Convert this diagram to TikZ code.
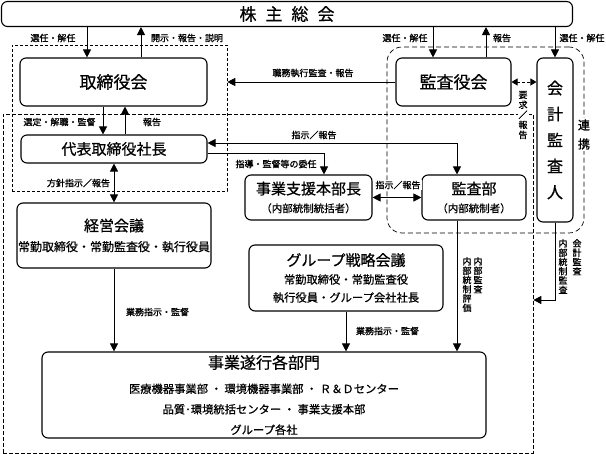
\documentclass[tikz,border=0pt]{standalone}
\usepackage{fontspec}
\setmainfont{Noto Sans CJK JP}
\newfontfamily\lblfont[FakeBold=1.2]{Noto Sans CJK JP}
\newfontfamily\ttlfont[FakeBold=0.6]{Noto Sans CJK JP}
\usetikzlibrary{arrows.meta}

\begin{document}
\begin{tikzpicture}[x=1pt, y=-1pt,
        box/.style={draw, line width=1.1pt, rounded corners=6pt, fill=white, align=center, inner sep=0pt},
        lbl/.style={font=\lblfont\fontsize{9}{9}\selectfont, inner sep=1pt, fill=white},
        vlbl/.style={font=\lblfont\fontsize{9}{9.3}\selectfont, align=center, inner sep=1pt, fill=white},
        arr/.style={line width=0.8pt, -{Triangle[length=8pt,width=8pt]}},
        darr/.style={line width=0.8pt, {Triangle[length=8pt,width=8pt]}-{Triangle[length=8pt,width=8pt]}},
        dsharr/.style={line width=0.8pt, dash pattern=on 3pt off 2pt, {Triangle[length=6pt,width=7pt]}-{Triangle[length=6pt,width=7pt]}},
        mgmtbox/.style={draw, line width=0.7pt, dash pattern=on 4pt off 2pt},
        auditbox/.style={draw, line width=0.7pt, dash pattern=on 5pt off 3pt, rounded corners=15pt},
        bdbox/.style={draw, line width=0.6pt, dash pattern=on 3pt off 2pt}
    ]
        \useasboundingbox (0,0) rectangle (606,454);

        % 破線の枠
        \node[mgmtbox, minimum width=530, minimum height=339] (mgmt) at (268,283.5) {};
        \node[auditbox, minimum width=197, minimum height=186] (audit) at (485.5,140) {};
        \node[bdbox, minimum width=215, minimum height=146] (bdgroup) at (119.5,118) {};

        % 各機関
        \node[box, minimum width=571, minimum height=25, font=\ttlfont\fontsize{17}{17}\selectfont] (soukai) at (287,14) {株\hspace{9pt}主\hspace{9pt}総\hspace{9pt}会};
        \node[box, minimum width=187, minimum height=48, font=\ttlfont\fontsize{17}{17}\selectfont] (torishimari) at (113.5,82) {取締役会};
        \node[box, minimum width=115, minimum height=48, font=\ttlfont\fontsize{17}{17}\selectfont] (kansayaku) at (453.5,82) {監査役会};
        \node[box, minimum width=36, minimum height=164, font=\ttlfont\fontsize{16}{26}\selectfont] (kaikei) at (555,140) {会\\計\\監\\査\\人};
        \node[box, minimum width=186, minimum height=28, font=\ttlfont\fontsize{15}{15}\selectfont] (shacho) at (114,149) {代表取締役社長};
        \node[box, minimum width=194, minimum height=65, font=\ttlfont\fontsize{12}{20}\selectfont] (keiei) at (114,235.5)
            {{\fontsize{15}{20}\selectfont 経営会議}\\常勤取締役・常勤監査役・執行役員};
        \node[box, minimum width=127, minimum height=45, font=\ttlfont\fontsize{10.5}{18}\selectfont] (shien) at (308.5,197.5)
            {{\fontsize{15}{18}\selectfont 事業支援本部長}\\（内部統制統括者）};
        \node[box, minimum width=104, minimum height=45, font=\ttlfont\fontsize{10.5}{18}\selectfont] (kansabu) at (474,197.5)
            {{\fontsize{15}{18}\selectfont 監査部}\\（内部統制者）};
        \node[box, minimum width=194, minimum height=66, font=\ttlfont\fontsize{11.3}{18}\selectfont] (senryaku) at (346,278)
            {{\fontsize{15}{18}\selectfont グループ戦略会議}\\常勤取締役・常勤監査役\\執行役員・グループ会社社長};
        \node[box, minimum width=444, minimum height=86, font=\ttlfont\fontsize{11.3}{20.5}\selectfont] (jigyo) at (264,395)
            {{\fontsize{16}{20.5}\selectfont 事業遂行各部門}\\[4pt]医療機器事業部\ ・\ 環境機器事業部\ ・\ Ｒ＆Ｄセンター\\品質･環境統括センター\ ・\ 事業支援本部\\グループ各社};

        % 矢印
        \draw[arr] (87,0 |- soukai.south) -- (87,0 |- torishimari.north);
        \draw[arr] (141,0 |- torishimari.north) -- (141,0 |- soukai.south);
        \draw[arr] (433,0 |- soukai.south) -- (433,0 |- kansayaku.north);
        \draw[arr] (486,0 |- kansayaku.north) -- (486,0 |- soukai.south);
        \draw[arr] (soukai.south -| kaikei.north) -- (kaikei.north);
        \draw[arr] (kansayaku.west) -- (bdgroup.east |- kansayaku.west);
        \draw[dsharr] (kansayaku.east) -- (kaikei.west |- kansayaku.east);
        \draw[arr] (103,0 |- torishimari.south) -- (103,0 |- shacho.north);
        \draw[arr] (125,0 |- shacho.north) -- (125,0 |- torishimari.south);
        \draw[darr] (shacho.south) -- (keiei.north);
        \draw[darr] ([yshift=6pt]shacho.east) -| (457,0 |- kansabu.north);
        \draw[arr] ([yshift=-4pt]shacho.east) -| (324,0 |- shien.north);
        \draw[darr] (shien.east) -- (kansabu.west);
        \draw[arr] (457,0 |- kansabu.south) -- (457,0 |- jigyo.north);
        \draw[arr] (kaikei.south) |- (mgmt.east |- 0,300);
        \draw[arr] (keiei.south) -- (keiei.south |- jigyo.north);
        \draw[arr] (senryaku.south) -- (senryaku.south |- jigyo.north);

        % ラベル
        \node[lbl] (lsen1) at (53,38) {選任・解任};
        \node[lbl] (lkaiji) at (187,38) {開示・報告・説明};
        \node[lbl] (lshokumu) at (313,73) {職務執行監査・報告};
        \node[lbl] (lsen2) at (405,38) {選任・解任};
        \node[lbl] (lhoukoku1) at (502,38) {報告};
        \node[lbl] (lsen3) at (582,38) {選任・解任};
        \node[lbl] (lsentei) at (59.5,122) {選定・解職・監督};
        \node[lbl] (lhoukoku2) at (152,122) {報告};
        \node[lbl] (lhoushin) at (78.5,183) {方針指示／報告};
        \node[lbl] (lshiji1) at (314,135) {指示／報告};
        \node[lbl] (lshidou) at (276,164) {指導・監督等の委任};
        \node[lbl] (lshiji2) at (398,185) {指示／報告};
        \node[lbl] (lgyomu1) at (157.5,312) {業務指示・監督};
        \node[lbl] (lgyomu2) at (387.5,331) {業務指示・監督};
        \node[vlbl, font=\lblfont\fontsize{9}{10}\selectfont] (lyokyu) at (523,115) {要\\求\\／\\報\\告};
        \node[vlbl, font=\lblfont\fontsize{12}{19}\selectfont] (lrenkei) at (584,134.5) {連\\携};
        \node[vlbl, anchor=north] (lnaibu1) at (478,256) {内\\部\\監\\査};
        \node[vlbl, anchor=north] (lnaibu2) at (467,256) {内\\部\\統\\制\\評\\価};
        \node[vlbl, anchor=north] (lkaikei1) at (577,238) {会\\計\\監\\査};
        \node[vlbl, anchor=north] (lkaikei2) at (563,238) {内\\部\\統\\制\\監\\査};
    \end{tikzpicture}
\end{document}
